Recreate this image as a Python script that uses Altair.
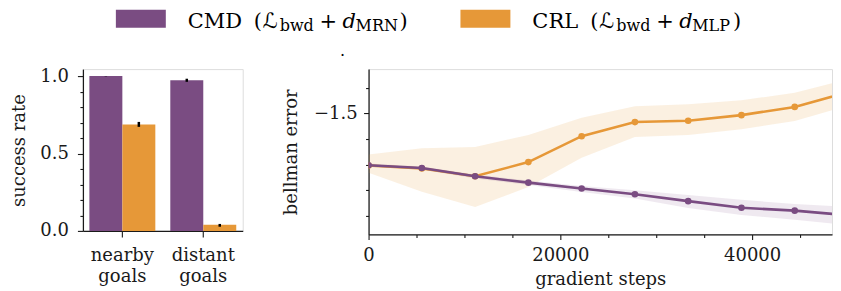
import altair as alt
import pandas as pd

# ---------------- data ----------------
categories = ["nearby goals", "distant goals"]
methods = ["CMD", "CRL"]
method_colors = ["#7A4C82", "#E69838"]

success_cmd = [1.0, 0.973]
success_cmd_lo = [0.998, 0.963]
success_cmd_hi = [1.0, 0.983]
success_crl = [0.688, 0.039]
success_crl_lo = [0.672, 0.027]
success_crl_hi = [0.704, 0.045]

steps = [0, 5556, 11111, 16667, 22222, 27778, 33333, 38889, 44444, 50000]
cmd_mean = [-1.702, -1.713, -1.745, -1.770, -1.793, -1.815, -1.842, -1.868, -1.879, -1.897]
cmd_lo = [-1.709, -1.719, -1.754, -1.779, -1.806, -1.832, -1.869, -1.896, -1.915, -1.935]
cmd_hi = [-1.695, -1.707, -1.738, -1.762, -1.783, -1.800, -1.818, -1.837, -1.853, -1.865]
crl_mean = [-1.703, -1.715, -1.745, -1.690, -1.589, -1.534, -1.529, -1.507, -1.475, -1.418]
crl_lo = [-1.731, -1.805, -1.865, -1.787, -1.673, -1.592, -1.584, -1.562, -1.530, -1.470]
crl_hi = [-1.660, -1.636, -1.631, -1.584, -1.517, -1.472, -1.465, -1.449, -1.420, -1.367]

y_major_left = [0.0, 0.5, 1.0]
y_minor_left = [0.1, 0.2, 0.3, 0.4, 0.6, 0.7, 0.8, 0.9]
x_major_right = [0, 20000, 40000]
x_minor_right = [5000, 10000, 15000, 25000, 30000, 35000, 45000]
y_major_right = [-1.5]
y_minor_right = [-1.4, -1.6, -1.7, -1.8, -1.9]

legend_names = ["CMD", "CRL"]
legend_subs = ["MRN", "MLP"]

FONT = "DejaVu Serif"
INK = "#1a1a1a"

# ---------------- tables ----------------
bar_df = pd.DataFrame({
    "cat": categories * 2,
    "method": [methods[0]] * 2 + [methods[1]] * 2,
    "value": success_cmd + success_crl,
    "lo": success_cmd_lo + success_crl_lo,
    "hi": success_cmd_hi + success_crl_hi,
})

line_df = pd.DataFrame({
    "step": steps * 2,
    "method": [methods[0]] * len(steps) + [methods[1]] * len(steps),
    "mean": cmd_mean + crl_mean,
    "lo": cmd_lo + crl_lo,
    "hi": cmd_hi + crl_hi,
})

color_scale = alt.Scale(domain=methods, range=method_colors)

axis_common = dict(
    grid=False, domainColor=INK, domainWidth=1.25, tickColor=INK, tickWidth=1.1,
    labelFont=FONT, labelFontSize=18, labelColor=INK, labelFlush=False,
    titleFont=FONT, titleFontSize=18, titleFontWeight="normal", titleColor=INK,
)

# ---------------- left panel ----------------
x_left = alt.X("cat:N", sort=categories,
               scale=alt.Scale(paddingInner=0.185, paddingOuter=0.08),
               axis=alt.Axis(title=None, labelAngle=0, tickSize=6, labelPadding=10,
                             labelExpr="split(datum.label, ' ')", labelLineHeight=21,
                             labelBaseline="top", **axis_common))
xoff = alt.XOffset("method:N", sort=methods, scale=alt.Scale(paddingInner=0, paddingOuter=0))
y_left_scale = alt.Scale(domain=[0, 1.0452], nice=False, zero=False)
y_left_axis = alt.Axis(title="success rate", values=y_major_left, format=".1f",
                       tickSize=5.5, labelPadding=9, titlePadding=11.5, **axis_common)

bars = alt.Chart(bar_df).mark_bar().encode(
    x=x_left, xOffset=xoff,
    y=alt.Y("value:Q", scale=y_left_scale, axis=y_left_axis),
    color=alt.Color("method:N", scale=color_scale, legend=None),
)
errs = alt.Chart(bar_df).mark_rule(color="black", strokeWidth=2.5).encode(
    x=x_left, xOffset=xoff,
    y=alt.Y("lo:Q", scale=y_left_scale, axis=y_left_axis),
    y2="hi:Q",
)
minor_left = alt.Chart(bar_df).mark_point(opacity=0).encode(
    x=x_left, xOffset=xoff,
    y=alt.Y("value:Q", scale=y_left_scale,
            axis=alt.Axis(title=None, values=y_minor_left, labels=False, domain=False,
                          tickSize=3, orient="left", grid=False, tickColor=INK, tickWidth=1.1)),
)
left = alt.layer(alt.layer(bars, errs), minor_left).resolve_axis(y="independent").properties(
    width=160, height=162)

# ---------------- right panel ----------------
x_scale_r = alt.Scale(domain=[0, 48333], nice=False, zero=False)
y_scale_r = alt.Scale(domain=[-1.9716, -1.3276], nice=False, zero=False)
x_axis_r = alt.Axis(title="gradient steps", values=x_major_right, format="d",
                    tickSize=5, labelPadding=7, titlePadding=6, **axis_common)
y_axis_r = alt.Axis(title="bellman error", values=y_major_right,
                    labelExpr="replace(format(datum.value, '.1f'), '-', '\u2212')",
                    tickSize=5, labelPadding=6.5, titlePadding=13, **axis_common)

def series_layers(name, color, band_opacity):
    d = alt.Chart(line_df).transform_filter(alt.datum.method == name)
    band = d.mark_area(clip=True, color=color, opacity=band_opacity).encode(
        x=alt.X("step:Q", scale=x_scale_r, axis=x_axis_r),
        y=alt.Y("lo:Q", scale=y_scale_r, axis=y_axis_r),
        y2="hi:Q",
    )
    line = d.mark_line(clip=True, color=color, strokeWidth=2.6).encode(
        x=alt.X("step:Q", scale=x_scale_r, axis=x_axis_r),
        y=alt.Y("mean:Q", scale=y_scale_r, axis=y_axis_r),
    )
    pts = d.mark_point(clip=True, color=color, filled=True, opacity=1, size=44).encode(
        x=alt.X("step:Q", scale=x_scale_r, axis=x_axis_r),
        y=alt.Y("mean:Q", scale=y_scale_r, axis=y_axis_r),
    )
    return band, line, pts

cmd_band, cmd_line, cmd_pts = series_layers("CMD", method_colors[0], 0.12)
crl_band, crl_line, crl_pts = series_layers("CRL", method_colors[1], 0.15)

minor_right = alt.Chart(line_df).mark_point(opacity=0, clip=True).encode(
    x=alt.X("step:Q", scale=x_scale_r,
            axis=alt.Axis(title=None, values=x_minor_right, labels=False, domain=False,
                          tickSize=3, orient="bottom", grid=False, tickColor=INK, tickWidth=1.1)),
    y=alt.Y("mean:Q", scale=y_scale_r,
            axis=alt.Axis(title=None, values=y_minor_right, labels=False, domain=False,
                          tickSize=3, orient="left", grid=False, tickColor=INK, tickWidth=1.1)),
)
right = alt.layer(
    alt.layer(crl_band, cmd_band, crl_line, crl_pts, cmd_line, cmd_pts),
    minor_right,
).resolve_axis(x="independent", y="independent").properties(
    width=464, height=165.5,
)

# ---------------- legend (manual, for subscripts) ----------------
# legend coordinates are relative to the left panel's plot origin (x) and chart top (y)
starts = [105, 450]
swatch_x = [33, 378]
offsets = [
    [0, 66, 75, 92, 132, 155, 168, 212],
    [0, 58, 67, 84, 124, 147, 160, 201],
]
rows = []
for i, (nm, sb) in enumerate(zip(legend_names, legend_subs)):
    texts = [nm, "(", "\u2112", "bwd", "+", "d", sb, ")"]
    kinds = ["main", "main", "cal", "sub", "main", "ital", "sub", "main"]
    for t, k, o in zip(texts, kinds, offsets[i]):
        rows.append({"t": t, "kind": k, "px": starts[i] + o})
leg_df = pd.DataFrame(rows)
sw_df = pd.DataFrame({"x": swatch_x, "x2": [v + 50 for v in swatch_x], "method": methods})

swatches = alt.Chart(sw_df).mark_rect().encode(
    x=alt.X("x:Q", scale=None), x2="x2:Q",
    y=alt.value(1.5), y2=alt.value(19.5),
    color=alt.Color("method:N", scale=color_scale, legend=None),
)

def text_layer(kind, size, baseline_y, font=FONT, style="normal"):
    return alt.Chart(leg_df).transform_filter(alt.datum.kind == kind).mark_text(
        align="left", baseline="alphabetic", font=font, fontSize=size, fontStyle=style,
        color="black").encode(x=alt.X("px:Q", scale=None), y=alt.value(baseline_y), text="t:N")

dot = alt.Chart(pd.DataFrame({"t": ["."]})).mark_text(
    align="center", baseline="alphabetic", font=FONT, fontSize=16, color="black"
).encode(x=alt.value(260), y=alt.value(48), text="t:N")

legend = alt.layer(
    swatches,
    text_layer("main", 21, 19.7),
    text_layer("cal", 21, 19.7, font="DejaVu Sans"),
    text_layer("ital", 21, 19.7, style="italic"),
    text_layer("sub", 16, 22.5),
    dot,
).properties(width=680, height=50, view=alt.ViewBackground(stroke="transparent", strokeOpacity=0))

chart = alt.vconcat(
    legend,
    alt.hconcat(left, right, spacing=38),
    spacing=7,
).properties(padding={"left": 1, "top": 0, "right": 0, "bottom": 0}).configure_view(
    stroke=None).configure(font=FONT)

chart.save("out.html", embed_options={"renderer": "svg", "actions": False})
